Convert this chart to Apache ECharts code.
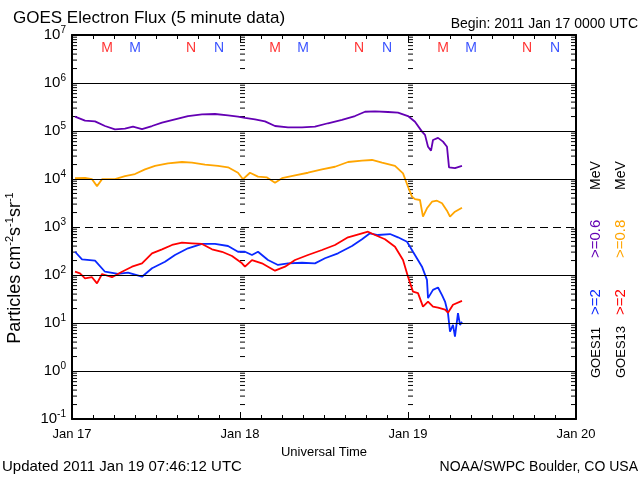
<!DOCTYPE html>
<html><head><meta charset="utf-8">
<script src="https://cdn.jsdelivr.net/npm/echarts@6/dist/echarts.min.js"></script>
<style>html,body{margin:0;padding:0;background:#fff}#c{width:640px;height:480px}</style>
</head><body><div id="c"></div>
<script>
// ---- data ----
const xTickLabels = ['Jan 17', 'Jan 18', 'Jan 19', 'Jan 20'];
const gridDecadesSolid = [1e6, 1e5, 1e4, 1e2, 1e1, 1e0];
const gridDecadesDashed = [1e3];

const g11_06_hours = [0.43,1.86,3.29,4.71,6.14,7.57,8.71,10,11.43,12.86,14.71,16.57,18.57,20.43,22.29,23.71,24.71,26.14,27.57,29,30.86,32.86,34.71,36.57,38.57,40.43,41.86,43.29,45.14,46.57,48,49,50,50.43,50.86,51.29,51.57,52.29,53,53.57,53.86,54.71,55.71];
const g11_06_vals = [1.99e5,1.64e5,1.59e5,1.27e5,1.08e5,1.12e5,1.23e5,1.10e5,1.27e5,1.49e5,1.75e5,2.05e5,2.23e5,2.26e5,2.12e5,1.99e5,1.87e5,1.75e5,1.59e5,1.27e5,1.19e5,1.19e5,1.23e5,1.45e5,1.70e5,2.05e5,2.52e5,2.57e5,2.49e5,2.41e5,2.05e5,1.56e5,9.7e4,8.3e4,4.7e4,3.9e4,6.5e4,7.2e4,6.0e4,4.7e4,1.75e4,1.69e4,1.87e4];

const g13_08_hours = [0.43,1.86,2.86,3.57,4.29,6.14,7.57,9,10.43,11.86,13.71,15.71,17.14,19,20.86,22.29,23.71,24.43,25.43,26.57,27.86,29,30,31.86,33.71,35.71,37.57,39.43,41.43,42.86,44.29,46.14,47.29,48,48.57,49,49.71,50.14,50.71,51.43,52.14,52.86,53.57,54,54.71,55.71];
const g13_08_vals = [1.04e4,1.06e4,9.9e3,7.1e3,9.9e3,9.9e3,1.15e4,1.27e4,1.59e4,1.87e4,2.12e4,2.26e4,2.19e4,1.99e4,1.87e4,1.75e4,1.35e4,9.9e3,1.35e4,1.12e4,1.08e4,8.4e3,1.04e4,1.19e4,1.35e4,1.59e4,1.80e4,2.26e4,2.41e4,2.49e4,2.19e4,1.87e4,1.31e4,6.9e3,4.3e3,3.8e3,3.65e3,1.64e3,2.45e3,3.37e3,3.53e3,3.12e3,2.19e3,1.64e3,2.08e3,2.52e3];

const g11_2_hours = [0.43,1.43,3.29,4.71,6.57,8,10,11.43,13.29,14.71,16.57,18.57,20.43,22.29,23.71,24.71,25.71,26.57,28,29.43,30.86,32.86,34.71,36.14,38,40,41.43,42.57,43.71,45.43,46.57,47.86,48.71,50,50.71,50.86,51.57,52.29,52.86,53.29,53.71,54,54.43,54.71,55.14,55.43,55.71];
const g11_2_vals = [305,212,199,117,105,112,92,138,189,261,360,443,443,402,305,305,261,305,205,162,175,180,175,223,283,402,555,740,681,714,610,494,305,149,79,33,49,55,38,28,16,6.6,9.1,5.2,16,9.1,10.6];

const g13_2_hours = [0.43,1.14,1.86,2.86,3.57,4.29,5.71,7.14,8.57,10,11.43,12.86,14.29,15.71,17.14,18.57,20,21.43,22.86,24.29,24.71,25.71,27.14,28,29,30.43,31.86,33.71,35.71,37.57,39.43,41.43,42.29,43.29,44.71,46.14,47.29,48,48.71,49.43,50.14,50.86,51.57,52.29,53.29,53.71,54.43,55.71];
const g13_2_vals = [117,108,85,90,67,105,90,117,149,175,283,343,422,471,457,443,343,305,249,175,149,205,175,149,123,149,205,261,332,422,610,740,798,681,555,389,205,92,45,42,22,28,22,21,19,16.4,24,29];

// local midnight (M) / noon (N) markers: hour, letter, satellite
const markerHours = [5, 9, 17, 21, 29, 33, 41, 45, 53, 57, 65, 69];
const markerLetters = ['M','M','N','N','M','M','N','N','M','M','N','N'];
const markerSat = ['13','11','13','11','13','11','13','11','13','11','13','11'];

// ---- styling ----
const C = { g11_06: '#6400b4', g13_08: '#ffa500', g11_2: '#0a28ff', g13_2: '#ff0000' };
const FONT = 'Liberation Sans';
const zip = (a, b) => a.map((h, i) => [h, b[i]]);

// minor log ticks (2..9 per decade) at left, Jan18, Jan19, right
const minorTickData = [];
[[0, 1], [24, 1], [48, 1], [72, -1]].forEach(([xh, dir]) => {
  for (let n = -1; n < 7; n++) for (let k = 2; k <= 9; k++) minorTickData.push([xh, k * Math.pow(10, n), dir]);
});

const chart = echarts.init(document.getElementById('c'), null, { renderer: 'canvas' });

function lineSeries(name, data, color) {
  return {
    name, type: 'line', data, symbol: 'none', showSymbol: false,
    lineStyle: { color, width: 1.8 }, itemStyle: { color }, animation: false, z: 3
  };
}

const option = {
  animation: false,
  backgroundColor: '#fff',
  textStyle: { fontFamily: FONT },
  grid: { left: 72, top: 35, width: 504, height: 384, containLabel: false, outerBoundsMode: 'none' },
  xAxis: [{
    type: 'value', min: 0, max: 72, interval: 24, position: 'bottom',
    axisLine: { show: true, onZero: false, lineStyle: { color: '#000', width: 2 } },
    axisTick: { show: true, inside: true, length: 7, lineStyle: { color: '#000', width: 1 } },
    minorTick: { show: true, splitNumber: 8, length: 4, lineStyle: { color: '#000', width: 1 } },
    splitLine: { show: false },
    axisLabel: { color: '#000', fontFamily: FONT, fontSize: 13, margin: 9,
      formatter: v => xTickLabels[Math.round(v / 24)] },
    name: 'Universal Time', nameLocation: 'middle', nameGap: 26,
    nameTextStyle: { color: '#000', fontFamily: FONT, fontSize: 13 }
  }, {
    type: 'value', min: 0, max: 72, interval: 24, position: 'top',
    axisLine: { show: true, onZero: false, lineStyle: { color: '#000', width: 2 } },
    axisTick: { show: true, inside: true, length: 7, lineStyle: { color: '#000', width: 1 } },
    minorTick: { show: true, splitNumber: 8, length: 4, lineStyle: { color: '#000', width: 1 } },
    splitLine: { show: false }, axisLabel: { show: false }
  }],
  yAxis: [{
    type: 'log', logBase: 10, min: 0.1, max: 1e7, position: 'left',
    axisLine: { show: true, onZero: false, lineStyle: { color: '#000', width: 2 } },
    axisTick: { show: false }, minorTick: { show: false }, splitLine: { show: false },
    axisLabel: {
      color: '#000', margin: 6, fontFamily: FONT,
      formatter: v => '{b|10}{e|' + Math.round(Math.log10(v)) + '}',
      rich: {
        b: { fontSize: 15, fontFamily: FONT, color: '#000' },
        e: { fontSize: 10, fontFamily: FONT, color: '#000', padding: [0, 0, 9, 0] }
      }
    }
  }, {
    type: 'log', logBase: 10, min: 0.1, max: 1e7, position: 'right',
    axisLine: { show: true, onZero: false, lineStyle: { color: '#000', width: 2 } },
    axisTick: { show: false }, minorTick: { show: false }, splitLine: { show: false },
    axisLabel: { show: false }
  }],
  series: [
    {
      type: 'custom', name: 'minorTicks', silent: true, z: 2,
      data: minorTickData, encode: { x: 0, y: 1 }, clip: false,
      renderItem: (params, api) => {
        const p = api.coord([api.value(0), api.value(1)]);
        const d = api.value(2);
        return { type: 'line', shape: { x1: p[0], y1: p[1], x2: p[0] + d * 5, y2: p[1] },
          style: { stroke: '#000', lineWidth: 1 } };
      },
      markLine: {
        silent: true, symbol: 'none', label: { show: false }, animation: false,
        data: gridDecadesSolid.map(v => ({ yAxis: v, lineStyle: { color: '#000', width: 1, type: 'solid' } }))
          .concat(gridDecadesDashed.map(v => ({ yAxis: v, lineStyle: { color: '#000', width: 1, type: [8, 5] } })))
      }
    },
    lineSeries('GOES11 >=0.6 MeV', zip(g11_06_hours, g11_06_vals), C.g11_06),
    lineSeries('GOES13 >=0.8 MeV', zip(g13_08_hours, g13_08_vals), C.g13_08),
    lineSeries('GOES11 >=2 MeV', zip(g11_2_hours, g11_2_vals), C.g11_2),
    lineSeries('GOES13 >=2 MeV', zip(g13_2_hours, g13_2_vals), C.g13_2),
    {
      type: 'scatter', name: 'MN', silent: true, symbolSize: 0, z: 4,
      data: markerHours.map((h, i) => ({
        value: [h, 5.4e6],
        label: { show: true, position: 'inside', formatter: markerLetters[i],
          color: markerSat[i] === '13' ? C.g13_2 : C.g11_2, fontSize: 14, fontFamily: FONT }
      }))
    }
  ],
  graphic: [
    { type: 'text', x: 13, y: 18, style: { text: 'GOES Electron Flux (5 minute data)', fill: '#000', font: '17px ' + FONT, textVerticalAlign: 'middle' } },
    { type: 'text', x: 638, y: 24, style: { text: 'Begin: 2011 Jan 17 0000 UTC', fill: '#000', font: '14px ' + FONT, textAlign: 'right', textVerticalAlign: 'middle' } },
    { type: 'text', x: 2, y: 467, style: { text: 'Updated 2011 Jan 19 07:46:12 UTC', fill: '#000', font: '15px ' + FONT, textVerticalAlign: 'middle' } },
    { type: 'text', x: 638, y: 467, style: { text: 'NOAA/SWPC Boulder, CO USA', fill: '#000', font: '14px ' + FONT, textAlign: 'right', textVerticalAlign: 'middle' } },
    { type: 'text', x: 15, y: 268, rotation: Math.PI / 2,
      style: { text: 'Particles cm{s|-2}s{s|-1}sr{s|-1}', fill: '#000', font: '18px ' + FONT, textAlign: 'center', textVerticalAlign: 'middle',
        rich: { s: { fontSize: 11, fontFamily: FONT, padding: [0, 0, 10, 0], fill: '#000' } } } },
    // legend column 1
    { type: 'text', x: 596, y: 378, rotation: Math.PI / 2, style: { text: 'GOES11', fill: '#000', font: '13px ' + FONT, textVerticalAlign: 'middle' } },
    { type: 'text', x: 596, y: 315, rotation: Math.PI / 2, style: { text: '>=2', fill: C.g11_2, font: '15px ' + FONT, textVerticalAlign: 'middle' } },
    { type: 'text', x: 596, y: 258, rotation: Math.PI / 2, style: { text: '>=0.6', fill: C.g11_06, font: '15px ' + FONT, textVerticalAlign: 'middle' } },
    { type: 'text', x: 596, y: 190, rotation: Math.PI / 2, style: { text: 'MeV', fill: '#000', font: '14px ' + FONT, textVerticalAlign: 'middle' } },
    // legend column 2
    { type: 'text', x: 621, y: 378, rotation: Math.PI / 2, style: { text: 'GOES13', fill: '#000', font: '13px ' + FONT, textVerticalAlign: 'middle' } },
    { type: 'text', x: 621, y: 315, rotation: Math.PI / 2, style: { text: '>=2', fill: C.g13_2, font: '15px ' + FONT, textVerticalAlign: 'middle' } },
    { type: 'text', x: 621, y: 258, rotation: Math.PI / 2, style: { text: '>=0.8', fill: C.g13_08, font: '15px ' + FONT, textVerticalAlign: 'middle' } },
    { type: 'text', x: 621, y: 190, rotation: Math.PI / 2, style: { text: 'MeV', fill: '#000', font: '14px ' + FONT, textVerticalAlign: 'middle' } }
  ]
};
chart.setOption(option);
</script></body></html>
